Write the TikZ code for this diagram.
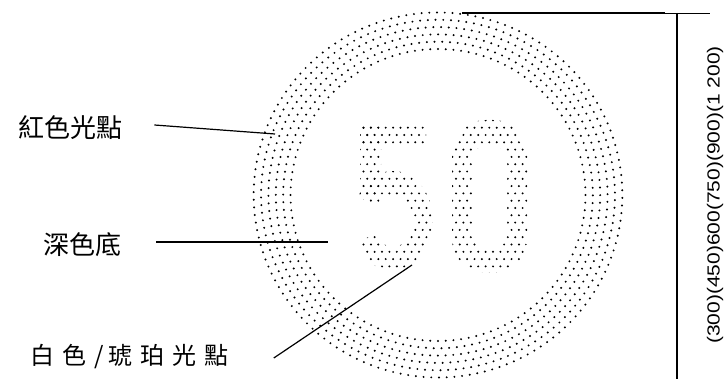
\documentclass[tikz,border=0pt]{standalone}
\usepackage{fontspec}
\setmainfont{Liberation Sans}
\newfontfamily\cjk{Noto Sans CJK TC}
\newcommand\dotfield{%
  \foreach \r in {0,...,23}{\foreach \c in {0,...,27}{
    \fill ({345+7.4*\c+3.7*mod(\r,2)},{98+7.3*\r}) circle[radius=1.1];}}}
\begin{document}
\begin{tikzpicture}[x=1pt,y=1pt,
  leader/.style={line width=1.2pt},
  dimline/.style={line width=1.5pt},
  lbl/.style={font=\cjk\fontsize{26}{26}\selectfont, inner sep=0pt, anchor=west},
  lblsmall/.style={font=\cjk\fontsize{24}{24}\selectfont, inner sep=0pt, anchor=west},
  dimtext/.style={font=\fontsize{17.5}{17.5}\selectfont, inner sep=0pt, rotate=90}]
\useasboundingbox (0,0) rectangle (725,379);
% outer dotted ring
\foreach \k in {0,...,5}{
  \pgfmathsetmacro\rr{146+7.3*\k}
  \pgfmathtruncatemacro\nn{2*pi*\rr/7.6}
  \pgfmathsetmacro\stp{360/\nn}
  \foreach \i in {1,...,\nn}{
    \pgfmathsetmacro\ang{\stp*\i+2.7*\k}
    \fill ({438+1.01*\rr*cos(\ang)},{184+\rr*sin(\ang)}) circle[radius=1.1];
  }
}
% digit 0
\begin{scope}[rounded corners=34]
  \clip (452,106) rectangle (527,259);
  \dotfield
\end{scope}
\fill[white, rounded corners=16] (472,131) rectangle (507,234);
% digit 5: top bar
\begin{scope}
  \clip (360,231) rectangle (426,256);
  \dotfield
\end{scope}
% digit 5: stem
\begin{scope}
  \clip (360,179) rectangle (381,256);
  \dotfield
\end{scope}
% digit 5: bowl
\begin{scope}[shift={(393,158)}]
  \clip (148:40 and 50) arc[start angle=148,end angle=-153,x radius=40,y radius=50]
        -- (-153:20 and 26) arc[start angle=-153,end angle=148,x radius=20,y radius=26] -- cycle;
  \begin{scope}[shift={(-393,-158)}]
    \dotfield
  \end{scope}
\end{scope}
% labels
\node[lbl] (red) at (18,251.5) {紅色光點};
\node[lbl] (dark) at (43,134) {深色底};
\node[lblsmall] (white) at (30,22.5) {白\hspace{8pt}色\hspace{8pt}/\hspace{5pt}琥\hspace{8pt}珀\hspace{8pt}光\hspace{8pt}點};
\coordinate (redend) at (275,245);
\coordinate (darkend) at (328,137);
\coordinate (whiteend) at (412,114);
\draw[leader] (red.east) ++(32,2.5) -- (redend);
\draw[leader] (dark.east) ++(35,3) -- (darkend);
\draw[leader] (white.east) ++(45,-1.5) -- (whiteend);
% dimension
\coordinate (htop) at (462,366);
\coordinate (hmid) at (665,366);
\coordinate (hend) at (710,366);
\coordinate (vtop) at (677,366);
\coordinate (vbot) at (677,0);
\draw[dimline] (htop) -- (hmid);
\draw[line width=0.8pt] (hmid) -- (hend);
\draw[dimline] (vtop) -- (vbot);
\node[dimtext] (dim) at (715,184) {\scalebox{1.2}[1]{(300)(450)600(750)(900)(1 200)}};
\end{tikzpicture}
\end{document}
